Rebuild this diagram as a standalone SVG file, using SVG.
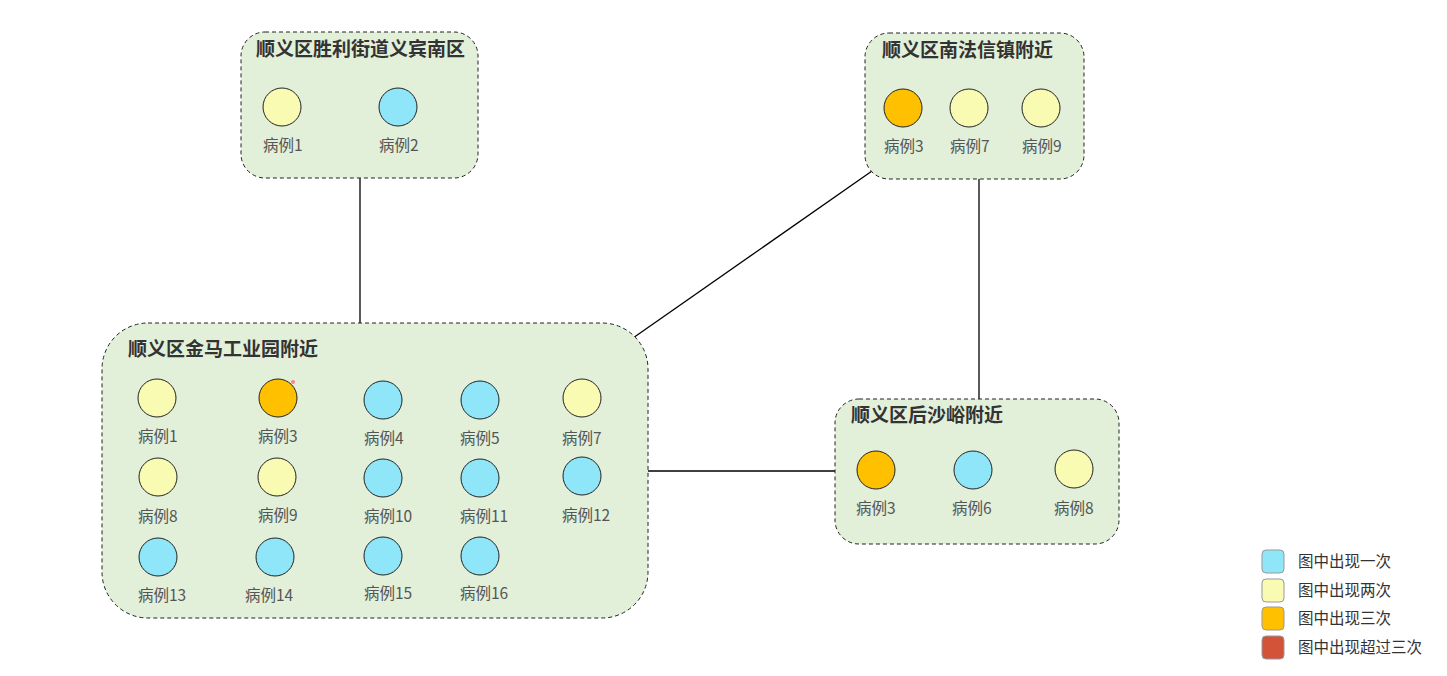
<svg xmlns="http://www.w3.org/2000/svg" width="1447" height="676" viewBox="0 0 1447 676">
<style>
.box{fill:#e2efd9;stroke:#222;stroke-width:1;stroke-dasharray:4 3}
.t{font-family:"Noto Sans CJK SC","Noto Sans",sans-serif;font-size:19px;font-weight:bold;fill:#333}
.l{font-family:"Noto Sans CJK SC","Noto Sans",sans-serif;font-size:15.5px;fill:#555}
.lg{font-family:"Noto Sans CJK SC","Noto Sans",sans-serif;font-size:15.5px;fill:#333}
.c1{fill:#8ee6f8;stroke:#222;stroke-width:1}
.c2{fill:#f8fbb1;stroke:#222;stroke-width:1}
.c3{fill:#ffc000;stroke:#222;stroke-width:1}
.conn{stroke:#000;stroke-width:1.3;fill:none}
.k{stroke:#999;stroke-width:1}
</style>
<rect width="1447" height="676" fill="#fff"/>
<g id="connectors">
<line class="conn" x1="360" y1="178" x2="360" y2="323"/>
<line class="conn" x1="633" y1="338" x2="872" y2="171"/>
<line class="conn" x1="979" y1="179" x2="979" y2="399"/>
<line class="conn" x1="648" y1="471" x2="835" y2="471"/>
</g>
<g id="group-shengli">
<rect class="box" x="241" y="32" width="237" height="146" rx="24"/>
<text class="t" x="256" y="56">顺义区胜利街道义宾南区</text>
<circle class="c2" cx="282" cy="107" r="19"/>
<circle class="c1" cx="398" cy="107" r="19"/>
<text class="l" x="263" y="151">病例1</text>
<text class="l" x="379" y="151">病例2</text>
</g>
<g id="group-nanfaxin">
<rect class="box" x="865" y="33" width="219" height="146" rx="24"/>
<text class="t" x="882" y="57">顺义区南法信镇附近</text>
<circle class="c3" cx="903" cy="108" r="19"/>
<circle class="c2" cx="969" cy="108" r="19"/>
<circle class="c2" cx="1041" cy="108" r="19"/>
<text class="l" x="884" y="152">病例3</text>
<text class="l" x="950" y="152">病例7</text>
<text class="l" x="1022" y="152">病例9</text>
</g>
<g id="group-jinma">
<rect class="box" x="102" y="323" width="546" height="295" rx="46"/>
<text class="t" x="128" y="356">顺义区金马工业园附近</text>
<circle class="c2" cx="157" cy="398" r="19"/>
<circle class="c3" cx="278" cy="398" r="19"/>
<circle cx="293" cy="382" r="2" fill="#ff5577" opacity="0.7"/>
<circle class="c1" cx="383" cy="400" r="19"/>
<circle class="c1" cx="480" cy="400" r="19"/>
<circle class="c2" cx="582" cy="398" r="19"/>
<text class="l" x="138" y="442">病例1</text>
<text class="l" x="258" y="442">病例3</text>
<text class="l" x="364" y="444">病例4</text>
<text class="l" x="460" y="444">病例5</text>
<text class="l" x="562" y="444">病例7</text>
<circle class="c2" cx="158" cy="477" r="19"/>
<circle class="c2" cx="277" cy="477" r="19"/>
<circle class="c1" cx="383" cy="478" r="19"/>
<circle class="c1" cx="480" cy="478" r="19"/>
<circle class="c1" cx="582" cy="476" r="19"/>
<text class="l" x="138" y="522">病例8</text>
<text class="l" x="258" y="521">病例9</text>
<text class="l" x="364" y="522">病例10</text>
<text class="l" x="460" y="522">病例11</text>
<text class="l" x="562" y="521">病例12</text>
<circle class="c1" cx="158" cy="557" r="19"/>
<circle class="c1" cx="275" cy="557" r="19"/>
<circle class="c1" cx="383" cy="556" r="19"/>
<circle class="c1" cx="480" cy="556" r="19"/>
<text class="l" x="138" y="601">病例13</text>
<text class="l" x="245" y="601">病例14</text>
<text class="l" x="364" y="599">病例15</text>
<text class="l" x="460" y="599">病例16</text>
</g>
<g id="group-houshayu">
<rect class="box" x="835" y="399" width="284" height="145" rx="24"/>
<text class="t" x="851" y="422">顺义区后沙峪附近</text>
<circle class="c3" cx="876" cy="470" r="19"/>
<circle class="c1" cx="973" cy="470" r="19"/>
<circle class="c2" cx="1074" cy="469" r="19"/>
<text class="l" x="856" y="514">病例3</text>
<text class="l" x="952" y="514">病例6</text>
<text class="l" x="1054" y="514">病例8</text>
</g>
<g id="legend">
<rect class="k" x="1262" y="550" width="22" height="23" rx="4" fill="#8ee6f8"/>
<rect class="k" x="1262" y="579" width="22" height="23" rx="4" fill="#f8fbb1"/>
<rect class="k" x="1262" y="607" width="22" height="23" rx="4" fill="#ffc000"/>
<rect class="k" x="1262" y="636" width="22" height="23" rx="4" fill="#d35338"/>
<text class="lg" x="1298" y="567">图中出现一次</text>
<text class="lg" x="1298" y="596">图中出现两次</text>
<text class="lg" x="1298" y="624">图中出现三次</text>
<text class="lg" x="1298" y="653">图中出现超过三次</text>
</g>
</svg>
